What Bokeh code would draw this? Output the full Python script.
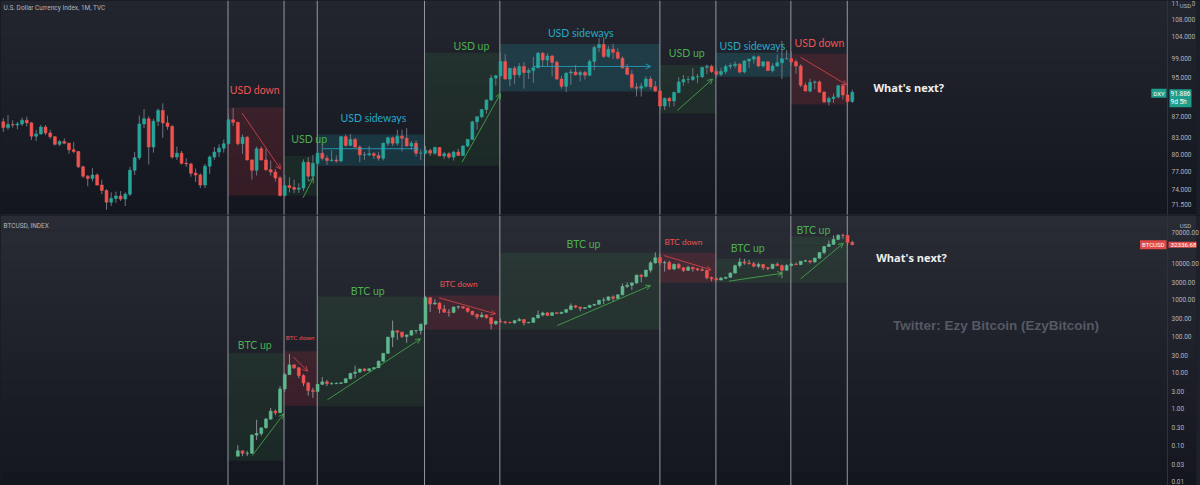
import numpy as np
from bokeh.plotting import figure
from bokeh.layouts import column
from bokeh.models import (ColumnDataSource, Range1d, FixedTicker, PrintfTickFormatter,
                          Span, BoxAnnotation, Label, Arrow, OpenHead)
from bokeh.embed import file_html
from bokeh.resources import INLINE

# ---------------- DATA ----------------
# month index = (year-2000)*12 + (month-1)
DXY_START = (2006, 5)
dxy_open = [
    86.0, 84.9, 85.5, 85.4, 85.6, 86.3, 85.8, 83.3,
    83.7, 85.0, 83.9, 83.2, 81.8, 82.3, 82.0, 80.8, 80.5, 77.8, 76.2, 75.8,
    76.4, 74.7, 73.8, 71.9, 72.5, 72.9, 72.4, 73.2, 77.2, 79.4, 85.6, 86.6,
    81.3, 86.1, 88.2, 85.8, 85.1, 79.5, 80.2, 78.4, 78.3, 76.7, 76.4, 74.7,
    77.9, 79.5, 80.4, 81.1, 81.9, 86.4, 85.9, 81.9, 83.1, 79.0, 77.2, 81.0,
    79.0, 77.3, 76.9, 75.9, 73.0, 74.6, 74.3, 74.0, 74.2, 78.6, 76.2, 78.4,
    80.2, 79.3, 78.9, 79.0, 78.8, 83.2, 81.6, 82.7, 81.3, 79.9, 79.9, 80.1,
    79.8, 79.3, 82.0, 83.0, 82.0, 83.3, 82.9, 81.5, 82.0, 80.2, 80.2, 80.7,
    80.2, 81.2, 79.7, 80.1, 79.5, 80.4, 79.8, 81.5, 82.7, 86.0, 87.0, 88.4,
    90.3, 94.8, 95.3, 98.4, 94.6, 96.9, 95.5, 97.3, 96.0, 96.4, 97.0, 100.2,
    98.7, 99.6, 98.2, 94.6, 93.1, 95.9, 96.1, 95.5, 96.0, 95.4, 98.4, 101.5,
    102.2, 99.5, 101.1, 100.4, 99.1, 97.0, 95.6, 92.9, 92.7, 93.1, 94.6, 93.0,
    92.1, 89.1, 90.6, 90.1, 91.8, 94.0, 94.5, 94.5, 95.1, 95.1, 97.1, 97.3,
    96.2, 95.6, 96.2, 97.3, 97.5, 97.8, 96.1, 98.5, 98.9, 99.4, 97.4, 98.3,
    96.4, 97.4, 98.1, 99.0, 99.0, 98.3, 97.4, 93.3, 92.1, 93.9, 94.0, 91.9,
    89.9, 90.6, 90.9, 93.2, 91.3, 90.0,
]
dxy_high = [
    86.7, 87.3, 86.3, 86.0, 86.8, 87.0, 86.0, 84.5,
    85.4, 85.4, 84.5, 83.3, 82.6, 82.9, 82.1, 82.2, 80.6, 78.0, 76.4, 77.6,
    76.7, 75.6, 74.0, 73.5, 73.6, 73.7, 73.5, 77.8, 80.4, 87.2, 88.5, 87.1,
    86.6, 88.6, 89.6, 87.2, 85.4, 81.4, 80.6, 79.3, 78.5, 77.5, 76.7, 78.3,
    79.8, 81.3, 81.8, 82.7, 87.5, 88.7, 86.0, 83.6, 83.3, 79.1, 81.4, 81.4,
    81.0, 78.9, 77.4, 76.2, 76.4, 76.0, 75.6, 75.0, 79.1, 79.5, 79.9, 81.5,
    81.8, 79.8, 80.7, 79.8, 83.3, 83.6, 83.7, 83.0, 81.6, 80.4, 81.5, 80.4,
    80.4, 82.1, 83.2, 83.2, 84.5, 84.5, 84.8, 82.4, 82.5, 80.9, 81.5, 81.0,
    81.4, 81.3, 80.4, 80.4, 80.6, 81.0, 81.6, 82.8, 86.2, 87.0, 88.4, 90.4,
    95.5, 95.5, 100.4, 100.0, 97.0, 97.4, 98.0, 98.3, 96.9, 99.4, 100.5, 100.5,
    100.2, 99.8, 98.6, 95.3, 95.9, 96.7, 97.6, 96.4, 96.4, 98.8, 101.9, 103.6,
    103.8, 101.8, 102.3, 101.3, 99.5, 97.8, 96.5, 93.8, 93.8, 95.2, 95.2, 94.2,
    92.7, 90.8, 90.9, 92.0, 95.0, 95.5, 95.2, 96.9, 95.7, 97.2, 97.7, 97.7,
    96.9, 97.0, 97.7, 98.0, 98.4, 98.0, 98.7, 99.0, 99.7, 99.7, 98.5, 98.4,
    98.0, 99.9, 103.0, 100.9, 100.6, 98.8, 97.8, 93.9, 94.7, 94.3, 94.3, 92.0,
    91.0, 91.6, 93.4, 93.4, 91.4, 92.4,
]
dxy_low = [
    84.1, 84.5, 84.9, 84.6, 85.2, 85.1, 82.6, 82.4,
    83.6, 83.5, 82.8, 81.6, 81.5, 81.8, 80.1, 80.2, 77.6, 75.9, 74.5, 75.3,
    74.6, 73.2, 70.7, 71.3, 71.8, 72.1, 71.3, 72.9, 76.4, 79.0, 84.8, 78.2,
    80.3, 85.2, 83.0, 84.5, 79.2, 79.0, 78.2, 77.8, 76.1, 75.2, 74.2, 74.2,
    76.6, 79.0, 79.5, 80.3, 81.8, 85.2, 81.6, 80.1, 78.9, 75.6, 76.3, 78.9,
    77.1, 76.3, 75.3, 72.8, 72.7, 73.5, 73.4, 73.4, 73.7, 75.3, 75.8, 77.9,
    78.9, 78.1, 78.7, 78.5, 78.6, 81.4, 81.5, 81.2, 78.6, 79.0, 79.7, 79.2,
    78.9, 78.9, 81.5, 81.5, 81.6, 80.5, 81.4, 80.8, 79.6, 79.0, 80.0, 79.7,
    79.9, 79.7, 79.2, 79.2, 78.9, 79.8, 79.7, 81.3, 82.6, 84.5, 86.7, 87.6,
    90.1, 93.2, 95.0, 94.5, 93.1, 93.5, 94.9, 92.6, 94.6, 93.8, 96.9, 97.2,
    97.3, 95.2, 94.5, 92.6, 91.9, 93.4, 95.4, 94.1, 94.5, 95.2, 96.5, 100.5,
    99.2, 99.2, 98.9, 98.8, 96.8, 95.5, 92.6, 91.0, 91.0, 92.8, 92.5, 91.9,
    88.4, 88.3, 88.9, 89.0, 91.8, 93.2, 93.7, 94.2, 93.8, 94.8, 95.7, 95.9,
    94.8, 95.2, 95.7, 96.7, 96.9, 95.8, 95.8, 97.0, 97.9, 97.1, 97.1, 96.4,
    96.0, 97.2, 94.6, 98.8, 97.6, 95.7, 92.9, 92.1, 91.8, 92.5, 91.7, 89.7,
    89.2, 89.7, 90.6, 90.4, 89.5, 89.7,
]
dxy_close = [
    84.9, 85.5, 85.4, 85.6, 86.3, 85.8, 83.3, 83.7,
    85.0, 83.9, 83.2, 81.8, 82.3, 82.0, 80.8, 80.5, 77.8, 76.2, 75.8, 76.4,
    74.7, 73.8, 71.9, 72.5, 72.9, 72.4, 73.2, 77.2, 79.4, 85.6, 86.6, 81.3,
    86.1, 88.2, 85.8, 85.1, 79.5, 80.2, 78.4, 78.3, 76.7, 76.4, 74.7, 77.9,
    79.5, 80.4, 81.1, 81.9, 86.4, 85.9, 81.9, 83.1, 79.0, 77.2, 81.0, 79.0,
    77.3, 76.9, 75.9, 73.0, 74.6, 74.3, 74.0, 74.2, 78.6, 76.2, 78.4, 80.2,
    79.3, 78.9, 79.0, 78.8, 83.2, 81.6, 82.7, 81.3, 79.9, 79.9, 80.1, 79.8,
    79.3, 82.0, 83.0, 82.0, 83.3, 82.9, 81.5, 82.0, 80.2, 80.2, 80.7, 80.2,
    81.2, 79.7, 80.1, 79.5, 80.4, 79.8, 81.5, 82.7, 86.0, 87.0, 88.4, 90.3,
    94.8, 95.3, 98.4, 94.6, 96.9, 95.5, 97.3, 96.0, 96.4, 97.0, 100.2, 98.7,
    99.6, 98.2, 94.6, 93.1, 95.9, 96.1, 95.5, 96.0, 95.4, 98.4, 101.5, 102.2,
    99.5, 101.1, 100.4, 99.1, 97.0, 95.6, 92.9, 92.7, 93.1, 94.6, 93.0, 92.1,
    89.1, 90.6, 90.1, 91.8, 94.0, 94.5, 94.5, 95.1, 95.1, 97.1, 97.3, 96.2,
    95.6, 96.2, 97.3, 97.5, 97.8, 96.1, 98.5, 98.9, 99.4, 97.4, 98.3, 96.4,
    97.4, 98.1, 99.0, 99.0, 98.3, 97.4, 93.3, 92.1, 93.9, 94.0, 91.9, 89.9,
    90.6, 90.9, 93.2, 91.3, 90.0, 91.886,
]

BTC_START = (2010, 7)
btc_open = [
    0.05, 0.07, 0.06, 0.06, 0.19, 0.21,
    0.30, 0.52, 0.86, 0.78, 3.50, 8.70, 16.1, 13.4, 8.2, 5.1, 3.2, 3.0,
    4.7, 5.5, 4.9, 4.9, 5.0, 5.2, 6.7, 9.4, 10.2, 12.4, 11.2, 12.6,
    13.5, 20.4, 33.4, 93.0, 139, 128, 97.5, 106, 141, 141, 211, 1130,
    757, 803, 550, 450, 445, 628, 637, 587, 478, 387, 338, 378,
    320, 217, 254, 244, 236, 230, 264, 284, 230, 236, 314, 377,
    430, 368, 437, 416, 448, 531, 673, 624, 575, 609, 698, 742,
    963, 970, 1190, 1080, 1348, 2300, 2480, 2875, 4718, 4338, 6468, 10200,
    14156, 10221, 10397, 6926, 9246, 7495, 6390, 7730, 7030, 6626, 6318, 4017,
    3742, 3457, 3854, 4105, 5350, 8574, 10817, 10085, 9630, 8293, 9199, 7569,
    7193, 9350, 8543, 6424, 8629, 9455, 9137, 11323, 11644, 10779, 13804, 19700,
    28990, 33110, 45140, 58800, 57750, 37300,
]
btc_high = [
    0.10, 0.07, 0.07, 0.20, 0.50, 0.30,
    0.56, 1.06, 0.95, 4.2, 9.9, 31.9, 16.6, 14.0, 8.9, 5.5, 3.8, 4.8,
    7.4, 6.2, 5.4, 5.3, 5.2, 6.8, 9.7, 15.4, 12.6, 12.9, 12.7, 13.8,
    21.0, 33.7, 95.0, 266, 140, 130, 111, 142, 144, 220, 1242, 1150,
    1020, 850, 715, 550, 635, 680, 660, 600, 495, 415, 455, 390,
    320, 265, 300, 260, 247, 268, 315, 285, 245, 330, 500, 465,
    460, 445, 440, 465, 550, 780, 703, 628, 610, 710, 755, 975,
    1150, 1210, 1300, 1420, 2780, 3000, 2950, 4750, 5000, 6470, 11500, 19800,
    17300, 11800, 11700, 9800, 10000, 7800, 8500, 7750, 7420, 7700, 6600, 4300,
    4100, 4200, 4140, 5620, 9100, 13900, 13200, 12330, 10900, 10550, 9500, 7750,
    9600, 10500, 9190, 9460, 10080, 10400, 11450, 12480, 12080, 14100, 19900, 29300,
    41900, 58300, 61700, 64800, 59500, 41300,
]
btc_low = [
    0.05, 0.05, 0.05, 0.06, 0.14, 0.18,
    0.29, 0.51, 0.67, 0.77, 2.9, 8.7, 12.6, 6.9, 4.2, 2.3, 2.0, 2.8,
    4.6, 4.2, 4.6, 4.8, 4.9, 5.2, 6.4, 7.1, 9.8, 10.6, 10.5, 12.5,
    13.2, 19.7, 33.0, 50, 79, 88, 65, 102, 115, 110, 200, 455,
    720, 420, 440, 340, 420, 540, 565, 440, 370, 290, 320, 300,
    152, 200, 235, 213, 225, 218, 255, 195, 226, 235, 310, 345,
    350, 365, 406, 412, 440, 525, 580, 480, 570, 605, 680, 740,
    750, 915, 890, 1075, 1350, 2080, 1840, 2690, 2980, 4120, 5500, 9800,
    9000, 5900, 6500, 6440, 7000, 5750, 6100, 5880, 6100, 6200, 3600, 3150,
    3350, 3380, 3750, 4080, 5320, 7500, 9060, 9320, 7710, 7300, 6520, 6430,
    6860, 8450, 3850, 6150, 8100, 8900, 8950, 10950, 9820, 10400, 13200, 17600,
    28100, 32300, 44900, 47000, 30000, 31300,
]
btc_close = [
    0.07, 0.06, 0.06, 0.19, 0.21, 0.30,
    0.52, 0.86, 0.78, 3.50, 8.70, 16.1, 13.4, 8.2, 5.1, 3.2, 3.0, 4.7,
    5.5, 4.9, 4.9, 5.0, 5.2, 6.7, 9.4, 10.2, 12.4, 11.2, 12.6, 13.5,
    20.4, 33.4, 93.0, 139, 128, 97.5, 106, 141, 141, 211, 1130, 757,
    803, 550, 450, 445, 628, 637, 587, 478, 387, 338, 378, 320,
    217, 254, 244, 236, 230, 264, 284, 230, 236, 314, 377, 430,
    368, 437, 416, 448, 531, 673, 624, 575, 609, 698, 742, 963,
    970, 1190, 1080, 1348, 2300, 2480, 2875, 4718, 4338, 6468, 10200, 14156,
    10221, 10397, 6926, 9246, 7495, 6390, 7730, 7030, 6626, 6318, 4017, 3742,
    3457, 3854, 4105, 5350, 8574, 10817, 10085, 9630, 8293, 9199, 7569, 7193,
    9350, 8543, 6424, 8629, 9455, 9137, 11323, 11644, 10779, 13804, 19700, 28990,
    33110, 45140, 58800, 57750, 37300, 32336.68,
]

dxy_ticks = [71.5, 74, 77, 80, 83, 87, 95, 99, 104, 108, 112]
btc_ticks = [0.01, 0.03, 0.1, 0.3, 1, 3, 10, 30, 100, 300, 1000, 3000, 10000, 70000]

# cycle boundaries (month index) where the vertical lines are drawn
cycle_edges = [123.9, 135.85, 142.93, 165.8, 181.86, 215.98, 227.92, 243.9, 255.93]

# zones: kind, edge_from, edge_to, low, high
usd_zones = [
    ("down", 0, 1, 73.0, 88.8), ("up", 1, 2, 73.0, 79.7), ("side", 2, 3, 78.0, 83.6),
    ("up", 3, 4, 78.0, 100.3), ("side", 4, 5, 92.0, 102.3), ("up", 5, 6, 87.6, 97.6),
    ("side", 6, 7, 95.1, 100.3), ("down", 7, 8, 89.4, 100.1),
]
btc_zones = [
    ("up", 0, 1, 0.0373, 33.7), ("down", 1, 2, 1.21, 38.2), ("up", 2, 3, 1.16, 1217),
    ("down", 3, 4, 151, 1297), ("up", 4, 5, 151, 19310), ("down", 5, 6, 2896, 19310),
    ("up", 6, 7, 2896, 13210), ("up", 7, 8, 2896, 54100),
]
# labels: text, kind, x, y, font size
usd_labels = [
    ("USD down", "down", 129.6, 92.4, 10.5), ("USD up", "up", 141.2, 82.8, 10.5),
    ("USD sideways", "side", 154.9, 86.8, 10.5), ("USD up", "up", 175.8, 101.9, 10.5),
    ("USD sideways", "side", 199.1, 104.9, 10.5), ("USD up", "up", 221.7, 100.2, 10.5),
    ("USD sideways", "side", 235.7, 101.9, 10.5), ("USD down", "down", 250.0, 102.6, 10.5),
]
btc_labels = [
    ("BTC up", "up", 129.6, 58.4, 10.5), ("BTC down", "down", 139.3, 91, 6.3),
    ("BTC up", "up", 153.7, 1778, 10.5), ("BTC down", "down", 173.1, 2768, 8.3),
    ("BTC up", "up", 199.7, 32650, 10.5), ("BTC down", "down", 221.0, 37070, 8.3),
    ("BTC up", "up", 234.7, 25350, 10.5), ("BTC up", "up", 248.7, 84300, 10.5),
]
# arrows: kind, x0, y0, x1, y1
usd_arrows = [
    ("down", 126.9, 87.7, 135.1, 77.4), ("up", 139.9, 72.6, 142.1, 75.9),
    ("side", 144.1, 81.0, 164.5, 81.0), ("up", 173.8, 78.6, 182.0, 91.6),
    ("side", 189.0, 97.3, 214.0, 97.3), ("up", 219.7, 88.2, 227.2, 94.6),
    ("down", 246.0, 99.3, 255.8, 93.4),
]
btc_arrows = [
    ("up", 129.1, 0.0521, 135.8, 0.729), ("down", 137.9, 26.2, 140.9, 10.8),
    ("up", 145.1, 1.77, 164.95, 83.8), ("down", 168.9, 1121, 180.95, 407),
    ("up", 194.1, 194, 214.0, 2439), ("down", 216.8, 16270, 226.9, 6590),
    ("up", 230.7, 3201, 242.1, 5313), ("up", 246.0, 3727, 255.1, 35400),
]

# ---------------- STYLE ----------------
TOP_GRAD = ((35, 38, 47), (19, 22, 30))      # pane background, top -> bottom
BOT_GRAD = ((41, 44, 53), (19, 22, 31))
TOP_BG = "#1b1e28"
BOT_BG = "#1e212b"
AXIS_TXT = "#b2b5be"
ZONE_FILL = {"down": ("#f23645", 0.15), "up": ("#4caf50", 0.11), "side": ("#26c6da", 0.16)}
ZONE_TXT = {"down": "#ef5350", "up": "#4caf50", "side": "#26a9c8"}
ZONE_LINE = {"down": "#e0464e", "up": "#4caf50", "side": "#26a9c8"}
ZFONT = "Lato"
FONT = "Open Sans"
FW = 1196                      # frame covers chart + price-scale area
X0, X1 = 75.4, 324.2           # chart area (left edge .. price-scale border)
X_END = X0 + (X1 - X0) * FW / 1167.0
TOP_Y = (69.8, 112.7)
BOT_Y = (0.00782, 204400)


def month_index(start, n):
    y, m = start
    base = (y - 2000) * 12 + (m - 1)
    return list(range(base, base + n))


def add_gradient(p, yr, grad, n=36):
    lo, hi = yr
    (r0, g0, b0), (r1, g1, b1) = grad
    for i in range(n):
        t = (i + 0.5) / n                     # 0 = top, 1 = bottom
        col = "#%02x%02x%02x" % (round(r0 + (r1 - r0) * t), round(g0 + (g1 - g0) * t),
                                 round(b0 + (b1 - b0) * t))
        top_v = hi * (lo / hi) ** (i / n)
        bot_v = hi * (lo / hi) ** ((i + 1) / n)
        p.add_layout(BoxAnnotation(bottom=bot_v, top=top_v * 1.0005 if i else top_v,
                                   fill_color=col, fill_alpha=1, line_color=None,
                                   level="underlay"))


def make_fig(h, yr, ticks, fmt, bg, grad):
    p = figure(frame_width=FW, frame_height=h, x_range=xr, y_range=Range1d(*yr), y_axis_type="log",
               y_axis_location="right", x_axis_location=None, output_backend="svg",
               toolbar_location=None, min_border_left=0, min_border_right=4,
               min_border_top=0, min_border_bottom=0, background_fill_color=bg,
               border_fill_color=bg, outline_line_color=None)
    p.grid.visible = False
    add_gradient(p, yr, grad)
    ax = p.yaxis[0]
    ax.ticker = FixedTicker(ticks=ticks, minor_ticks=[])
    ax.formatter = PrintfTickFormatter(format=fmt)
    ax.major_label_text_font_size = "6.5px"
    ax.major_label_text_font = "Roboto"
    ax.major_label_text_color = AXIS_TXT
    ax.major_tick_line_color = None
    ax.minor_tick_line_color = None
    ax.major_tick_out = 0
    ax.major_tick_in = 0
    ax.minor_tick_out = 0
    ax.axis_line_color = None
    ax.major_label_standoff = -25
    # price-scale border
    p.add_layout(Span(location=X1, dimension="height", line_color="#2e323d", line_width=1))
    return p


def add_candles(p, x, o, h, l, c, up, down, wick):
    o = np.array(o, dtype=float)
    c = np.array(c, dtype=float)
    cols = [up if cc >= oo else down for oo, cc in zip(o, c)]
    src = ColumnDataSource(dict(x=x, h=h, l=l, top=np.maximum(o, c), bot=np.minimum(o, c), col=cols))
    p.segment(x0="x", y0="h", x1="x", y1="l", source=src, line_color=wick, line_width=1)
    p.vbar(x="x", width=0.62, top="top", bottom="bot", source=src,
           fill_color="col", line_color="col", line_width=0.6)


def add_zones(p, zones, labels, arrows):
    for kind, a, b, lo, hi in zones:
        col, alpha = ZONE_FILL[kind]
        p.add_layout(BoxAnnotation(left=cycle_edges[a], right=cycle_edges[b], bottom=lo, top=hi,
                                   fill_color=col, fill_alpha=alpha, line_color=None,
                                   level="underlay"))
    for e in cycle_edges:
        p.add_layout(Span(location=e, dimension="height", line_color="#a9acb5",
                          line_width=1, line_alpha=0.85, level="underlay"))
    for text, kind, x, y, size in labels:
        p.add_layout(Label(x=x, y=y, text=text, text_align="center", text_baseline="middle",
                           text_color=ZONE_TXT[kind], text_font=ZFONT,
                           text_font_size=f"{size}px"))
    for kind, x0, y0, x1, y1 in arrows:
        c = ZONE_LINE[kind]
        p.add_layout(Arrow(end=OpenHead(size=5, line_color=c, line_width=1, line_alpha=0.8),
                           x_start=x0, y_start=y0, x_end=x1, y_end=y1,
                           line_color=c, line_width=1, line_alpha=0.8))


xr = Range1d(X0, X_END)

# ---------------- TOP: DXY ----------------
top = make_fig(215, TOP_Y, dxy_ticks, "%.3f", TOP_BG, TOP_GRAD)
dx = month_index(DXY_START, len(dxy_close))
add_zones(top, usd_zones, usd_labels, usd_arrows)
add_candles(top, dx, dxy_open, dxy_high, dxy_low, dxy_close, "#26a69a", "#ef5350", "#6f7380")
top.add_layout(Span(location=TOP_Y[0], dimension="width", line_color="#2a2e39", line_width=2))
top.add_layout(Label(x=X0, y=TOP_Y[1], x_offset=3, y_offset=-7, text="U.S. Dollar Currency Index, 1M, TVC",
                     text_baseline="middle", text_color=AXIS_TXT, text_font="Roboto",
                     text_font_size="6.5px"))
top.add_layout(Label(x=261.5, y=92.8, text="What's next?", text_baseline="middle",
                     text_color="#f0f0f0", text_font=FONT, text_font_style="bold",
                     text_font_size="11px"))
top.add_layout(Label(x=X1, y=TOP_Y[1], x_offset=18, y_offset=-5, text="USD", text_align="center",
                     text_baseline="middle", text_color=AXIS_TXT, text_font="Roboto",
                     text_font_size="6px", background_fill_color="#23262f", padding=1))
top.add_layout(Label(x=X1, y=dxy_close[-1], x_offset=-1, y_offset=-1, text="DXY", text_align="right",
                     text_baseline="middle", text_color="#ffffff", text_font="Roboto",
                     text_font_size="6px", background_fill_color="#1f9e8c", padding=(2, 1)))
top.add_layout(Label(x=X1, y=dxy_close[-1], x_offset=2, y_offset=3, text="%.3f\n9d 5h" % dxy_close[-1],
                     text_align="left", text_baseline="top", text_color="#ffffff", text_font="Roboto",
                     text_font_size="6.5px", text_line_height=1.0,
                     background_fill_color="#1f9e8c", padding=1))

# ---------------- BOTTOM: BTC ----------------
bot = make_fig(270, BOT_Y, btc_ticks, "%.2f", BOT_BG, BOT_GRAD)
bx = month_index(BTC_START, len(btc_close))
add_zones(bot, btc_zones, btc_labels, btc_arrows)
add_candles(bot, bx, btc_open, btc_high, btc_low, btc_close, "#5fb98f", "#ef5350", "#8a8d96")
bot.add_layout(Label(x=X0, y=BOT_Y[1], x_offset=3, y_offset=-10, text="BTCUSD, INDEX",
                     text_baseline="middle", text_color=AXIS_TXT, text_font="Roboto",
                     text_font_size="6.5px"))
bot.add_layout(Label(x=262.1, y=14350, text="What's next?", text_baseline="middle",
                     text_color="#f0f0f0", text_font=FONT, text_font_style="bold",
                     text_font_size="11px"))
bot.add_layout(Label(x=265.7, y=194, text="Twitter: Ezy Bitcoin (EzyBitcoin)", text_baseline="middle",
                     text_color="#555964", text_font="Liberation Sans", text_font_style="bold",
                     text_font_size="13.5px"))
bot.add_layout(Label(x=X1, y=BOT_Y[1], x_offset=18, y_offset=-10, text="USD", text_align="center",
                     text_baseline="middle", text_color=AXIS_TXT, text_font="Roboto",
                     text_font_size="6px", background_fill_color="#282b34", padding=1))
bot.add_layout(Label(x=X1, y=btc_close[-1], x_offset=-1, text="BTCUSD", text_align="right",
                     text_baseline="middle", text_color="#ffffff", text_font="Roboto",
                     text_font_size="6px", background_fill_color="#e04b4a", padding=(2, 1)))
bot.add_layout(Label(x=X1, y=btc_close[-1], x_offset=1, text="%.2f" % btc_close[-1],
                     text_align="left", text_baseline="middle", text_color="#ffffff",
                     text_font="Roboto", text_font_size="6.2px",
                     background_fill_color="#e04b4a", padding=(2, 1)))

layout = column(top, bot)
html = file_html(layout, INLINE, title="DXY vs BTC")
html = html.replace("<head>", "<head><style>body{background:#13161f;}</style>", 1)
open("out.html", "w").write(html)
